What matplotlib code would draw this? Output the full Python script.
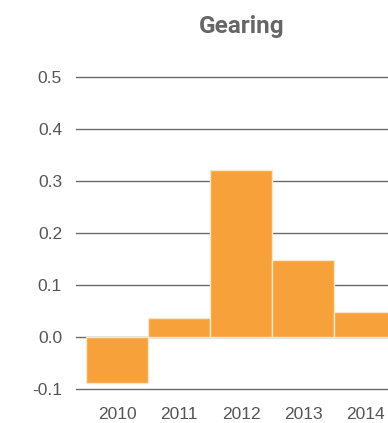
import matplotlib
matplotlib.use('Agg')
import matplotlib.pyplot as plt

# Gearing by year
years = ['2010', '2011', '2012', '2013', '2014']
gearing = [-0.088, 0.037, 0.321, 0.148, 0.048]
yticks = [-0.1, 0.0, 0.1, 0.2, 0.3, 0.4, 0.5]

plt.rcParams['font.family'] = ['Liberation Sans', 'DejaVu Sans']

fig = plt.figure(figsize=(3.88, 4.23), dpi=100)
ax = fig.add_axes([76 / 388, 1 - 389 / 423, 1 - 76 / 388, (389 - 77) / 423])

x = range(len(years))
ax.bar(x, gearing, width=1.0, color='#f7a13a', edgecolor='#fbe6c8', linewidth=1, zorder=3)

# horizontal grid lines, drawn under the bars
for t in yticks:
    ax.axhline(t, color='#6b6b6b', linewidth=1, zorder=1, clip_on=False)

ax.set_xlim(-0.66, 4.37)
ax.set_ylim(-0.1, 0.5)
ax.set_yticks(yticks)
ax.set_yticklabels(['%.1f' % t for t in yticks])
ax.set_xticks(list(x))
ax.set_xticklabels(years)
ax.tick_params(length=0, labelsize=12.5, colors='#555555')
ax.tick_params(axis='y', pad=10)
ax.tick_params(axis='x', pad=13)
for s in ax.spines.values():
    s.set_visible(False)

fig.text(242 / 388, 1 - 26 / 423, 'Gearing', ha='center', va='center',
         fontsize=17.5, fontweight='bold', color='#666666', family=['Roboto', 'DejaVu Sans'])

fig.savefig('out.png', dpi=100)
